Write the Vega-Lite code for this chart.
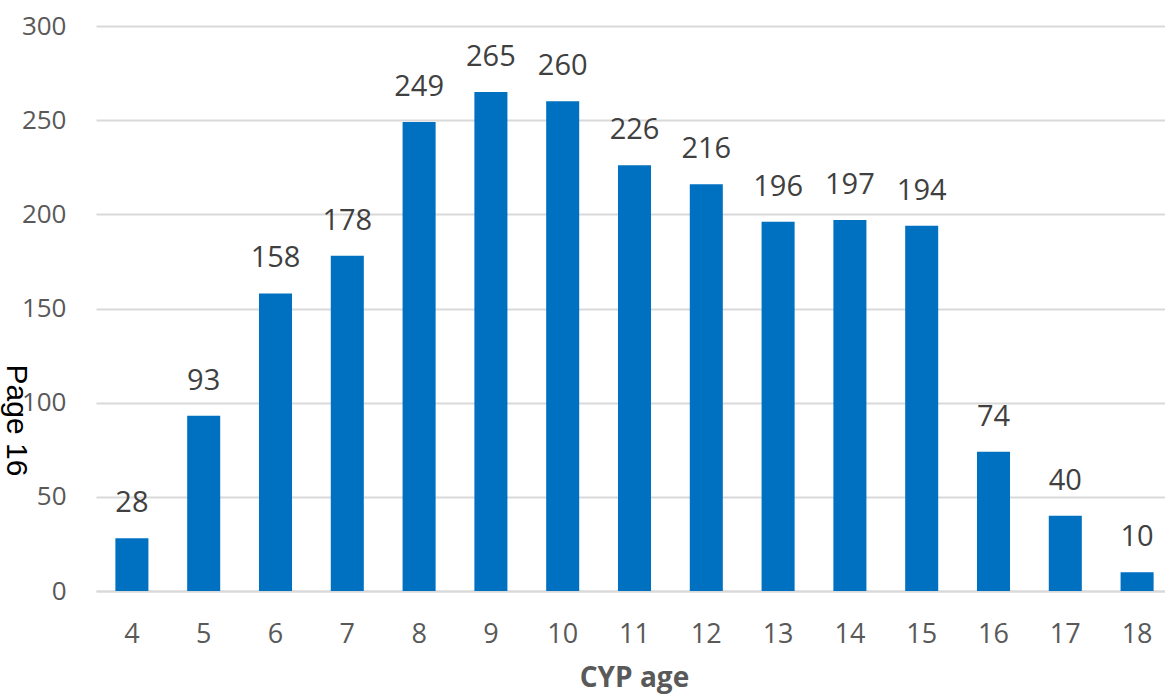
{
  "$schema": "https://vega.github.io/schema/vega-lite/v6.json",
  "autosize": "none",
  "width": 1069,
  "height": 565,
  "padding": {"left": 96, "top": 26, "right": 0, "bottom": 103},
  "background": "white",
  "config": {"view": {"stroke": null}},
  "data": {"values": [
    {"age": 4, "count": 28},
    {"age": 5, "count": 93},
    {"age": 6, "count": 158},
    {"age": 7, "count": 178},
    {"age": 8, "count": 249},
    {"age": 9, "count": 265},
    {"age": 10, "count": 260},
    {"age": 11, "count": 226},
    {"age": 12, "count": 216},
    {"age": 13, "count": 196},
    {"age": 14, "count": 197},
    {"age": 15, "count": 194},
    {"age": 16, "count": 74},
    {"age": 17, "count": 40},
    {"age": 18, "count": 10}
  ]},
  "encoding": {
    "x": {
      "field": "age", "type": "ordinal",
      "scale": {"range": [0, 1077], "paddingInner": 0.54, "paddingOuter": 0.27},
      "axis": {
        "title": "CYP age", "labelAngle": 0, "ticks": false,
        "domainColor": "#d9d9d9", "domainWidth": 2,
        "labelFont": "Open Sans", "labelFontSize": 27, "labelColor": "#595959",
        "labelPadding": 30, "labelBaseline": "top",
        "titleFont": "Open Sans", "titleFontSize": 28, "titleFontWeight": "bold",
        "titleColor": "#595959", "titleBaseline": "alphabetic", "titleY": 95, "titleX": 538
      }
    },
    "y": {
      "field": "count", "type": "quantitative",
      "scale": {"domain": [0, 300], "nice": false},
      "axis": {
        "values": [0, 50, 100, 150, 200, 250, 300],
        "title": "Page 16", "titleAngle": 90, "titleFont": "Liberation Sans",
        "titleFontSize": 30, "titleFontWeight": "normal", "titleColor": "black",
        "titleAlign": "center", "titleBaseline": "alphabetic",
        "titleX": -90, "titleY": 394,
        "domain": false, "ticks": false,
        "grid": true, "gridColor": "#d9d9d9", "gridWidth": 2,
        "labelFont": "Open Sans", "labelFontSize": 26, "labelColor": "#595959",
        "labelPadding": 30
      }
    }
  },
  "layer": [
    {"mark": {"type": "bar", "color": "#0070c0"}},
    {
      "mark": {"type": "text", "font": "Open Sans", "fontSize": 29, "color": "#404040",
               "baseline": "alphabetic", "dy": -26},
      "encoding": {"text": {"field": "count", "type": "quantitative"}}
    }
  ]
}
